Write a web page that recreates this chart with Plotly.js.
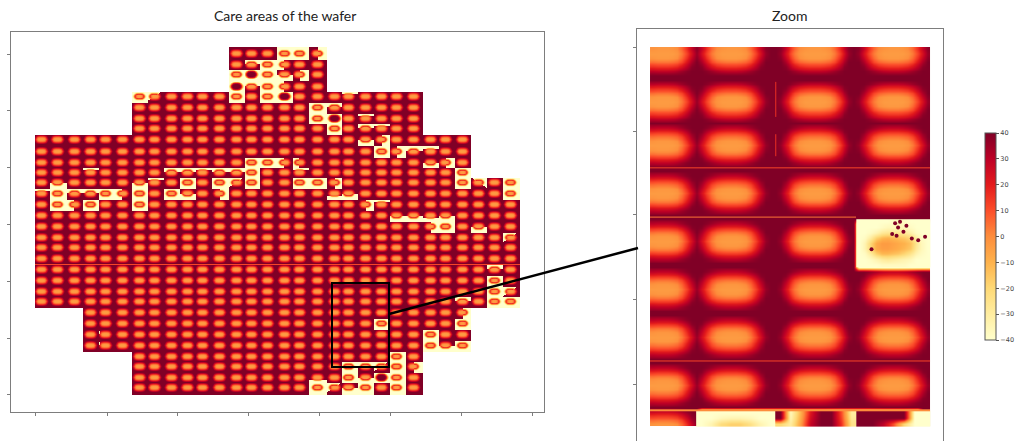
<!DOCTYPE html>
<html><head><meta charset="utf-8">
<script src="https://cdn.plot.ly/plotly-3.0.1.min.js"></script>
<style>html,body{margin:0;padding:0;background:#fff}</style></head>
<body><div id="chart" style="width:1016px;height:441px"></div>
<script>
// die status per wafer row/column: . none, o normal, Y out of care area, X dark on yellow,
// T B L R t b J K partly yellow, S small speck
const dieMap = [
"............oooYYR............",
"............oTYLoo............",
"............YXYBRo............",
"............XTYLoo............",
"......YJooooYoYXoootoooo......",
"......oooooooooooYTooooo......",
"......oooooooooooYXotooo......",
"......ooooooooooooYoTtoo......",
"ooooooooooooooooooooBRooooo...",
"oooooooooooooooooooooYRTtoo...",
"oooooooooooooYYLLoooooooBRo...",
"oootooooTTtTTYootoooooooooY...",
"oBooooBtoYoYJYooYYRoooooooYKoY",
"tYTTYLYoYBoRoooooobBoooooooooY",
"oYLYooYoooooooooooooRtoooooooo",
"ooooooooooooooooooooooBBbBoooo",
"ooooooooooooooooooooooooRYoBoo",
"oooooooooooooooooooooooooooooJ",
"oooooooooooooooooooooooooooooo",
"oooooooooooooooooooooooooooooo",
"ooooooooooooooooooooooooooooTo",
"ooooooooooooooooooooooooooooYo",
"ooooooooooooooooooooooooooooYJ",
"ooooooooooooooooooooooooooToYY",
"...oooooooooooooooooooooooR...",
"...ooooooooooooooooooYooooY...",
"...oSoooooooooooooooooooYoo...",
"...oSoooooooooooooooooooYBY...",
"......ooooooooooooooooYo......",
"......oooooooooooooYTJYR......",
"......oooooooooooboYBXYo......",
"......oooooooooooYJBYoYo......"
];
// die centres on the wafer
const dieX = [7,23,40,56,71,88,105,120,137,153,168,185,202,217,233,250,265,283,300,314,331,347,362,379,396,411,428,444,460,476];
const dieY = [7,18,28,40,50,61,72,82,93,105,116,126,136,147,158,169,180,191,201,212,223,234,245,255,266,277,288,299,310,320,331,341];
// height of the care area over one normal die
const normalDie = [
[40,40,40,40,40,40,40,40,40,40,40,40,40,40,40,40,40],
[40,40,40,38,35,32,30,29,29,29,30,32,35,38,40,40,40],
[40,40,38,30,23,18,16,15,15,15,16,18,23,30,38,40,40],
[40,40,33,22,12,7,5,4,4,4,5,7,12,22,33,40,40],
[40,38,28,16,6,0,-2,-3,-3,-3,-2,0,6,16,28,38,40],
[40,36,24,12,3,-2,-4,-4,-4,-4,-4,-2,3,12,24,36,40],
[40,38,28,16,6,0,-2,-3,-3,-3,-2,0,6,16,28,38,40],
[40,40,33,22,12,7,5,4,4,4,5,7,12,22,33,40,40],
[40,40,38,30,23,18,16,15,15,15,16,18,23,30,38,40,40],
[40,40,40,38,35,32,30,29,29,29,30,32,35,38,40,40,40],
[40,40,40,40,40,40,40,40,40,40,40,40,40,40,40,40,40]];
const yellowDie = [
[-40,-40,-40,-40,-40,-40,-40,-40,-40,-40,-40,-40,-40,-40,-40,-40,-40],
[-40,-40,-40,-40,-38,-36,-34,-34,-34,-34,-34,-36,-38,-40,-40,-40,-40],
[-40,-40,-40,-36,-24,-10,-4,-2,-2,-2,-4,-10,-24,-36,-40,-40,-40],
[-40,-40,-36,-18,4,14,16,14,14,14,16,14,4,-18,-36,-40,-40],
[-40,-38,-26,2,14,6,0,-3,-3,-3,0,6,14,2,-26,-38,-40],
[-40,-36,-20,8,14,4,-2,-4,-4,-4,-2,4,14,8,-20,-36,-40],
[-40,-38,-26,2,14,6,0,-3,-3,-3,0,6,14,2,-26,-38,-40],
[-40,-40,-36,-18,4,14,16,14,14,14,16,14,4,-18,-36,-40,-40],
[-40,-40,-40,-36,-24,-10,-4,-2,-2,-2,-4,-10,-24,-36,-40,-40,-40],
[-40,-40,-40,-40,-38,-36,-34,-34,-34,-34,-34,-36,-38,-40,-40,-40,-40],
[-40,-40,-40,-40,-40,-40,-40,-40,-40,-40,-40,-40,-40,-40,-40,-40,-40]];
const darkDie = [
[-40,-40,-40,-40,-40,-40,-40,-40,-40,-40,-40,-40,-40,-40,-40,-40,-40],
[-40,-40,-40,-40,-30,-15,-5,0,0,0,-5,-15,-30,-40,-40,-40,-40],
[-40,-40,-36,-15,5,20,25,28,28,28,25,20,5,-15,-36,-40,-40],
[-40,-38,-20,5,22,34,38,40,40,40,38,34,22,5,-20,-38,-40],
[-40,-30,-5,18,34,40,40,40,40,40,40,40,34,18,-5,-30,-40],
[-40,-25,0,22,36,40,40,40,40,40,40,40,36,22,0,-25,-40],
[-40,-30,-5,18,34,40,40,40,40,40,40,40,34,18,-5,-30,-40],
[-40,-38,-20,5,22,34,38,40,40,40,38,34,22,5,-20,-38,-40],
[-40,-40,-36,-15,5,20,25,28,28,28,25,20,5,-15,-36,-40,-40],
[-40,-40,-40,-40,-30,-15,-5,0,0,0,-5,-15,-30,-40,-40,-40,-40],
[-40,-40,-40,-40,-40,-40,-40,-40,-40,-40,-40,-40,-40,-40,-40,-40,-40]];
// the die inside the zoom that has left the care area
const zoomYellow = [
[-40,-40,-40,-40,-40,-40,-38,-36,-38,-40,-40,-40,-40],
[-40,-40,-40,-40,-38,-36,-36,-34,-36,-38,-40,-40,-40],
[-40,-40,-38,-34,-28,-26,-26,-26,-28,-32,-38,-40,-40],
[-40,-38,-30,-18,-12,-10,-12,-14,-16,-20,-30,-38,-40],
[-40,-34,-20,-8,-4,-4,-6,-8,-10,-14,-26,-36,-40],
[-40,-34,-20,-8,-5,-5,-7,-9,-12,-16,-28,-36,-40],
[-40,-38,-30,-18,-12,-12,-14,-16,-20,-26,-34,-38,-40],
[-40,-40,-38,-34,-30,-28,-30,-32,-34,-36,-40,-40,-40],
[-40,-40,-40,-40,-38,-38,-38,-38,-38,-40,-40,-40,-40]];
// bottom strip of the zoom, three partly lost dies
const zoomBottomB = [
[-40,-40,-40,-40,-40,-40,-40,-40],
[-40,-40,-36,-34,-34,-36,-40,-40],
[-40,-34,-22,-18,-18,-24,-34,-40]];
const zoomBottomC = [
[40,-36,-10,22,40,40,10,-30],
[40,-34,-8,25,40,40,12,-28],
[-20,-30,-5,28,40,40,15,-25]];
const zoomBottomD = [
[40,40,40,40,40,-40,-40],
[40,40,40,40,40,-40,-40],
[40,40,30,10,-20,-40,-40]];
const zoomSpecksX = [342.1,347.2,348.6,346.9,347.9,350.3,351.6,353.0,347.5,346.3,349.2];
const zoomSpecksY = [278.4,275.3,274.4,272.4,272.1,275.9,276.3,275.5,273.4,274.9,273.0];
// thin seams between reticle fields in the zoom: x from, x to, y from, y to, value
const zoomSeams = [
[297,354,259.6,259.9,12],[297,339,270.9,271.2,4],[297,354,303.9,304.2,12],[297,354,315.1,315.5,0],
[322.5,322.8,240,248,16],[322.5,322.8,252,257,16]];
const waferSeamRow = 217;
const waferW = 485, waferH = 348;

function nearest(list, v){let b=0;for(let i=1;i<list.length;i++) if(Math.abs(list[i]-v)<Math.abs(list[b]-v)) b=i;return b;}
function cellValue(code,dx,dy){
  const i=Math.max(-8,Math.min(8,dx))+8, j=Math.max(-5,Math.min(5,dy))+5;
  let yellow=false;
  switch(code){
    case 'Y':yellow=true;break;
    case 'X':return darkDie[j][i];
    case 'T':yellow=dy<=-1;break;
    case 'B':yellow=dy>=1;break;
    case 'L':yellow=dx<=-1;break;
    case 'R':yellow=dx>=1;break;
    case 't':yellow=dy<=-3;break;
    case 'b':yellow=dy>=3;break;
    case 'J':yellow=dx+dy*1.5<0;break;
    case 'K':yellow=dx-dy*1.5>0;break;
    case 'S':yellow=dx>=-8&&dx<=-6&&dy>=-3&&dy<=-1;break;
  }
  return (yellow?yellowDie:normalDie)[j][i];
}
const z=[];
for(let y=0;y<waferH;y++){
  const row=[]; const r=nearest(dieY,y+0.5);
  for(let x=0;x<waferW;x++){
    const c=nearest(dieX,x+0.5), code=(dieMap[r]||'')[c];
    if(!code||code==='.'){row.push(null);continue;}
    let v=cellValue(code,Math.round(x+0.5-dieX[c]),Math.round(y+0.5-dieY[r]));
    if(y===waferSeamRow&&code==='o') v=12;
    row.push(v);
  }
  z.push(row);
}
const zoomZ=z.slice(232,319).map(r=>r.slice(297,354));

const scale=[[0,'#ffffcc'],[0.125,'#ffeda0'],[0.25,'#fed976'],[0.375,'#feb24c'],[0.5,'#fd8d3c'],
[0.625,'#fc4e2a'],[0.75,'#e31a1c'],[0.875,'#bd0026'],[1,'#800026']];
const W=1016,H=441, frame='#7d7d7d';
function zoomHeat(zz,x0,dx,y0,dy){return {type:'heatmap',z:zz,x0:x0,dx:dx,y0:y0,dy:dy,coloraxis:'coloraxis',zsmooth:'best',xaxis:'x2',yaxis:'y2'};}
const traces=[
 {type:'heatmap',z:z,x0:0.5,dx:1,y0:0.5,dy:1,coloraxis:'coloraxis',zsmooth:false,xaxis:'x',yaxis:'y',hoverongaps:false},
 zoomHeat(zoomZ,297.5,1,232.5,1),
 zoomHeat(zoomYellow,339.577,1.154,272.11,1.222),
 zoomHeat(zoomBottomB,307.4,2.01,316,1.2),
 zoomHeat(zoomBottomC,323.53,2.06,316,1.2),
 zoomHeat(zoomBottomD,340.07,2.14,316,1.2),
 {type:'scatter',mode:'markers',x:zoomSpecksX,y:zoomSpecksY,xaxis:'x2',yaxis:'y2',marker:{color:'#800026',size:4},showlegend:false}
];
zoomSeams.forEach(s=>traces.push({type:'heatmap',x:[s[0],s[1]],y:[s[2],s[3]],z:[[s[4]]],coloraxis:'coloraxis',xaxis:'x2',yaxis:'y2'}));
const axisBase={showgrid:false,zeroline:false,showticklabels:false,showline:true,linecolor:frame,linewidth:1,mirror:true,ticks:'outside',ticklen:3,tickcolor:frame,tickwidth:1};
const layout={
 width:W,height:H,autosize:false,showlegend:false,paper_bgcolor:'#fff',plot_bgcolor:'#fff',
 margin:{l:0,r:0,t:0,b:0,autoexpand:false},
 font:{family:'Lato, sans-serif',color:'#222'},
 xaxis:Object.assign({},axisBase,{domain:[11/W,544/W],range:[-24,509],tickmode:'array',tickvals:[0,72,142,213,284,355,426,497]}),
 yaxis:Object.assign({},axisBase,{domain:[1-412/H,1-32/H],range:[365,-15],tickmode:'array',tickvals:[7,63,120,177,234,291,347]}),
 xaxis2:Object.assign({},axisBase,{domain:[637/W,943/W],range:[294.35,356.65],anchor:'y2',side:'top',ticks:'',mirror:false}),
 yaxis2:Object.assign({},axisBase,{domain:[0,1-29/H],range:[322.37,227.87],anchor:'x2',tickmode:'array',tickvals:[232,251.3,270.5,289.8,309.3]}),
 coloraxis:{cmin:-40,cmax:40,colorscale:scale,colorbar:{
   x:985/W,xanchor:'left',xref:'paper',y:1-133/H,yanchor:'top',yref:'paper',
   thickness:11,thicknessmode:'pixels',len:207,lenmode:'pixels',xpad:0,ypad:0,
   tickmode:'array',tickvals:[40,30,20,10,0,-10,-20,-30,-40],ticks:'outside',ticklen:3,tickwidth:1,tickcolor:'#555',
   tickfont:{size:6.5,family:'DejaVu Sans, sans-serif',color:'#444'},outlinewidth:1,outlinecolor:'#555'}},
 annotations:[
  {xref:'paper',yref:'paper',x:285/W,y:1-16/H,xanchor:'center',yanchor:'middle',text:'Care areas of the wafer',showarrow:false,font:{size:14,family:'Lato, sans-serif',color:'#222'}},
  {xref:'paper',yref:'paper',x:789/W,y:1-16/H,xanchor:'center',yanchor:'middle',text:'Zoom',showarrow:false,font:{size:14,family:'Lato, sans-serif',color:'#222'}}
 ],
 shapes:[
  {type:'rect',xref:'x',yref:'y',x0:297,x1:354,y0:236,y1:320,line:{color:'#000',width:2},layer:'above'},
  {type:'line',xref:'paper',yref:'paper',x0:389/W,y0:1-314/H,x1:638/W,y1:1-248/H,line:{color:'#000',width:2.5},layer:'above'}
 ]
};
Plotly.newPlot('chart',traces,layout,{displayModeBar:false,staticPlot:true});
</script></body></html>
